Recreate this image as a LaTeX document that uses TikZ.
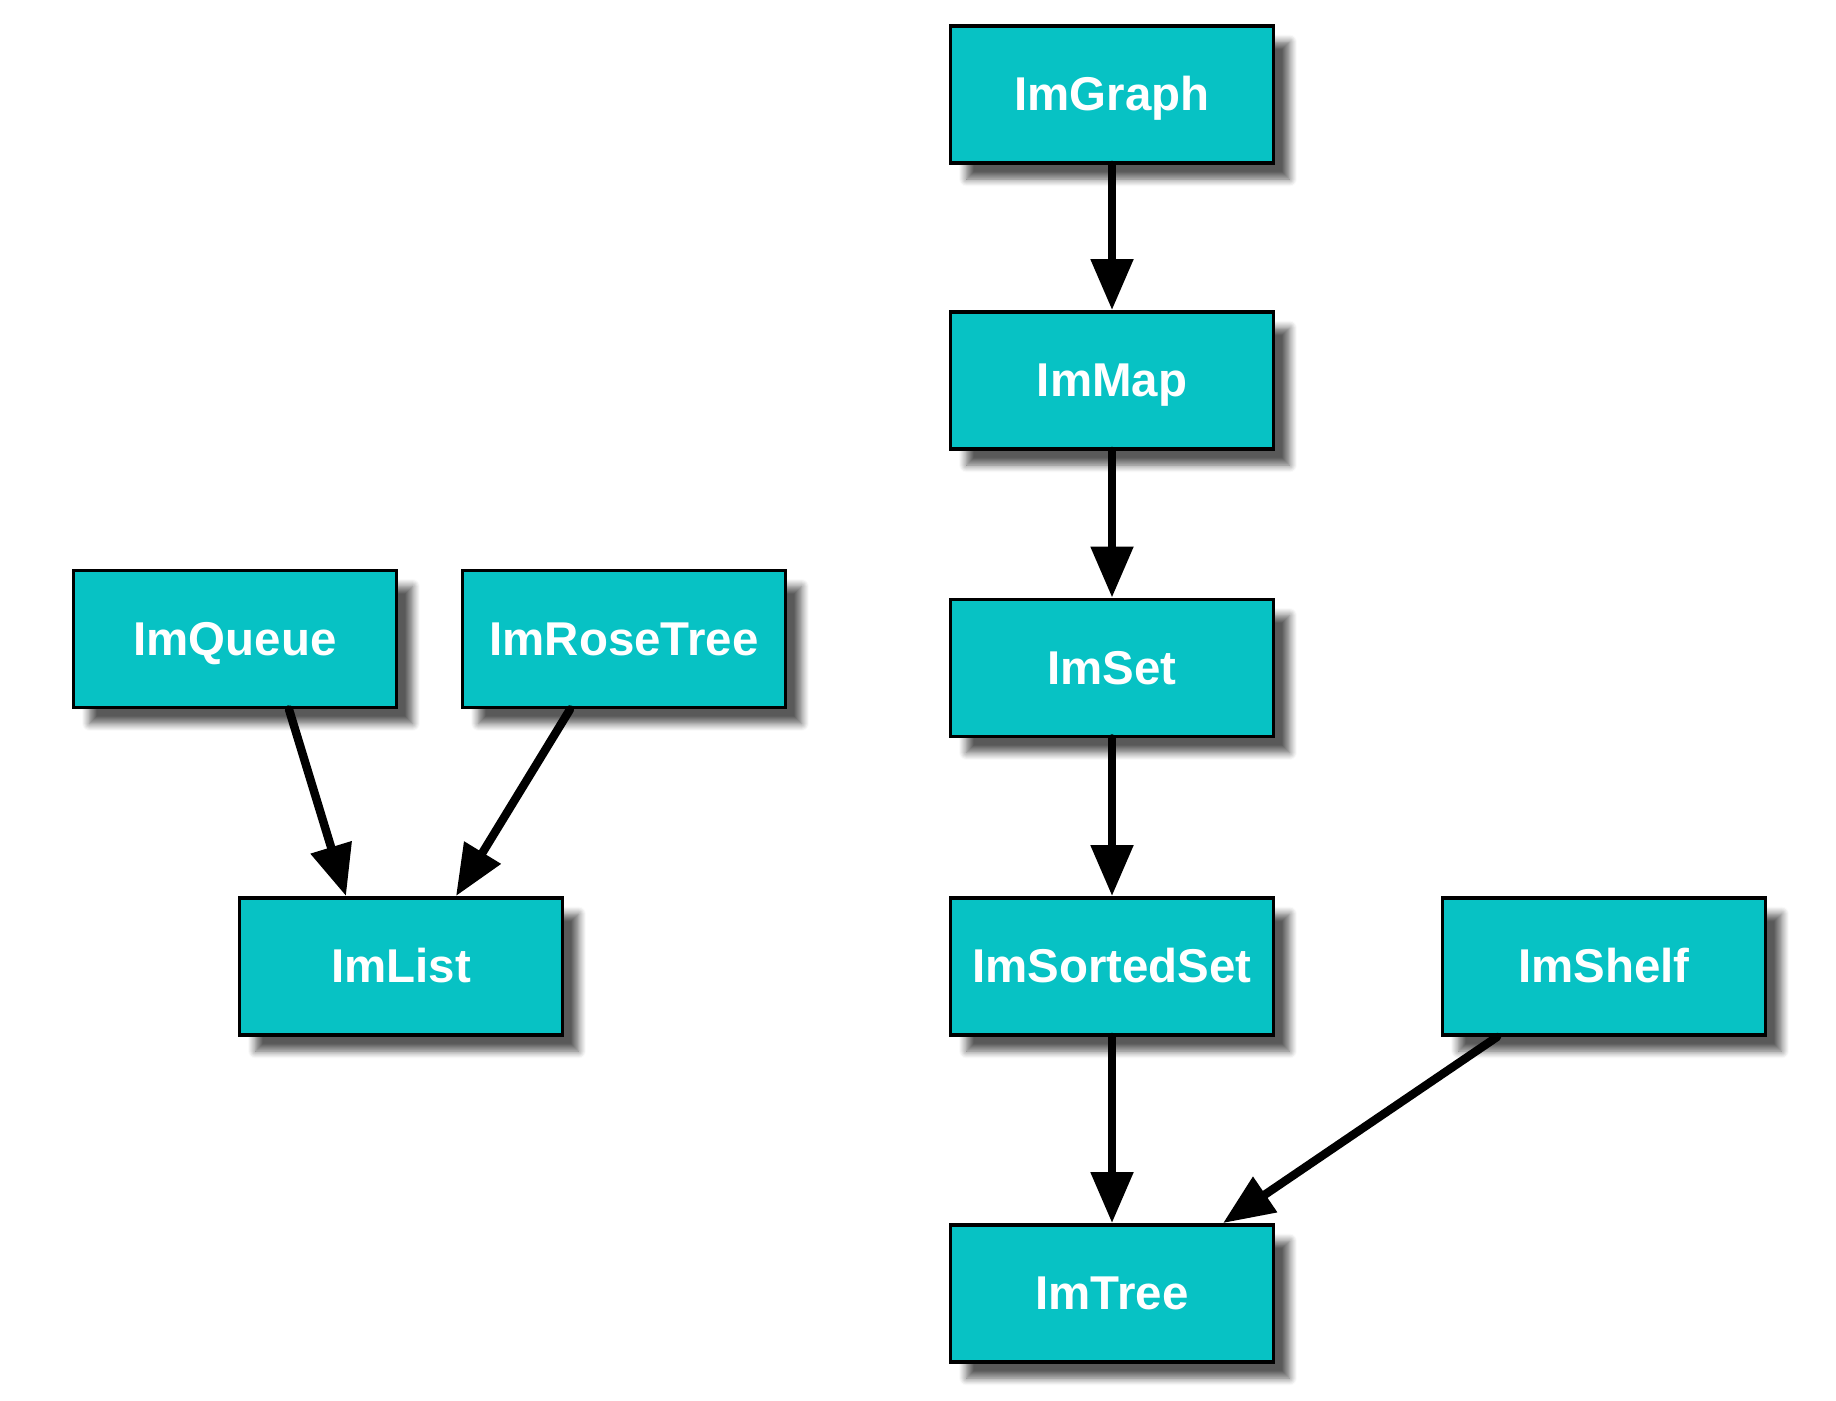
\documentclass[tikz,border=0pt]{standalone}
\usepackage{fontspec}
\setmainfont{Liberation Sans}
\usepackage{tikz}
\usetikzlibrary{arrows.meta,calc,shadows.blur}

\definecolor{boxfill}{HTML}{07C2C4}

\begin{document}
\begin{tikzpicture}[
  >={Triangle[length=5.1mm,width=4.1mm]},
  imbox/.style={draw=black,line width=1.1pt,fill=boxfill,
    minimum width=3.23cm,minimum height=1.37cm,inner sep=0pt,
    font=\fontsize{13.5}{16}\selectfont\bfseries,text=white,
    text height=1.75ex,text depth=0pt,
    blur shadow={shadow xshift=1.6mm,shadow yshift=-1.6mm,
      shadow blur steps=8,shadow opacity=65}},
  deparrow/.style={->,line width=2.4pt,line cap=round},
]

% ===================================================================
% Page frame (keeps the margins of the reference)
% ===================================================================
\useasboundingbox (0,0) rectangle (18.36,-14);

% ===================================================================
% Right column: the map/set chain
% ===================================================================
\foreach \n/\t/\y in {graph/ImGraph/-0.945, map/ImMap/-3.805, set/ImSet/-6.68,
                      sorted/ImSortedSet/-9.665, tree/ImTree/-12.935} {
  \node[imbox] (\n) at (11.12,\y) {\t};
}
\node[imbox] (shelf) at (16.04,-9.665) {ImShelf};

% ===================================================================
% Left group: list based structures
% ===================================================================
\node[imbox] (queue) at (2.35,-6.39) {ImQueue};
\node[imbox] (rose)  at (6.24,-6.39) {ImRoseTree};
\node[imbox] (list)  at (4.01,-9.665) {ImList};

% ===================================================================
% Dependency arrows
% ===================================================================
\foreach \a/\b in {graph/map, map/set, set/sorted, sorted/tree} {
  \draw[deparrow] (\a.south) -- (\b.north);
}
\draw[deparrow] ($(queue.south)+(0.54,0)$)  -- ($(list.north)+(-0.55,0)$);
\draw[deparrow] ($(rose.south)+(-0.54,0)$)  -- ($(list.north)+(0.55,0)$);
\draw[deparrow] ($(shelf.south)+(-1.07,0)$) -- ($(tree.north)+(1.11,0)$);

\end{tikzpicture}
\end{document}
